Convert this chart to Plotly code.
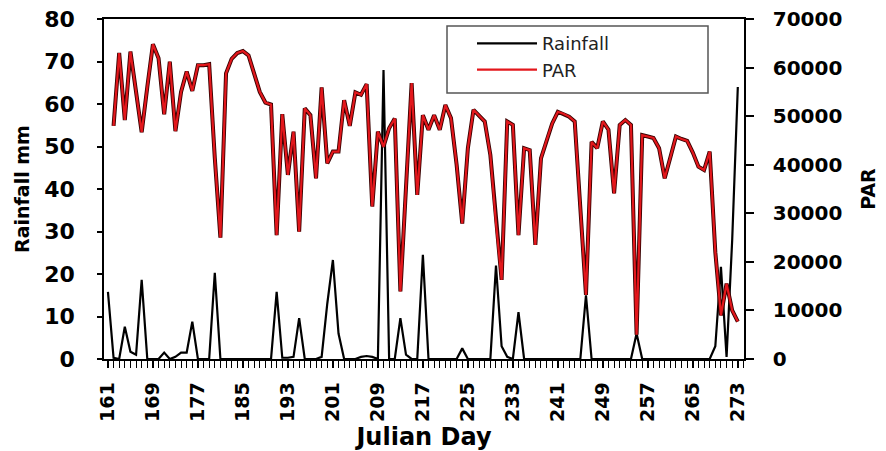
import plotly.graph_objects as go

# Julian days
days = [161, 162, 163, 164, 165, 166, 167, 168, 169, 170,
        171, 172, 173, 174, 175, 176, 177, 178, 179, 180,
        181, 182, 183, 184, 185, 186, 187, 188, 189, 190,
        191, 192, 193, 194, 195, 196, 197, 198, 199, 200,
        201, 202, 203, 204, 205, 206, 207, 208, 209, 210,
        211, 212, 213, 214, 215, 216, 217, 218, 219, 220,
        221, 222, 223, 224, 225, 226, 227, 228, 229, 230,
        231, 232, 233, 234, 235, 236, 237, 238, 239, 240,
        241, 242, 243, 244, 245, 246, 247, 248, 249, 250,
        251, 252, 253, 254, 255, 256, 257, 258, 259, 260,
        261, 262, 263, 264, 265, 266, 267, 268, 269, 270,
        271, 272, 273]

# Rainfall (mm), days 161-273
rainfall = [15.8, 0.3, 0, 7.6, 1.7, 1.0, 18.6, 0, 0, 0,
            1.5, 0, 0.5, 1.5, 1.5, 8.8, 0, 0, 0, 20.3,
            0, 0, 0, 0, 0, 0, 0, 0, 0, 0,
            15.8, 0.3, 0.3, 0.5, 9.6, 0, 0, 0, 0.5, 13,
            23.3, 6, 0, 0, 0, 0.5, 0.7, 0.5, 0, 68,
            0, 0, 9.6, 1, 0, 0, 24.5, 0, 0, 0,
            0, 0, 0, 2.5, 0, 0, 0, 0, 0, 22,
            3, 0.5, 0, 11, 0, 0, 0, 0, 0, 0,
            0, 0, 0, 0, 0, 15, 0, 0, 0, 0,
            0, 0, 0, 0, 6, 0, 0, 0, 0, 0,
            0, 0, 0, 0, 0, 0, 0, 0, 3, 21.7,
            0.5, 28, 64]

# PAR, days 162-273
par_days = days[1:]
par = [48000, 63000, 49200, 63300, 55000, 46700, 56000, 64800, 61900,
       50400, 61200, 46900, 55000, 59200, 55200, 60500, 60500, 60700, 41400,
       25000, 58800, 61800, 63000, 63400, 62500, 58500, 55000, 52800, 52400,
       25500, 50400, 37900, 46800, 26200, 51600, 50200, 37200, 55900, 40300,
       42700, 42700, 53300, 48000, 54900, 54400, 56600, 31400, 46800, 43700,
       47500, 49500, 13900, 35000, 56800, 33800, 50200, 47200, 50200, 47200,
       52300, 49600, 40000, 27900, 43400, 51300, 50000, 48900, 42000, 28000,
       16300, 48900, 48200, 25500, 43400, 43000, 23500, 41300, 45000, 48500,
       50900, 50500, 49900, 48900, 31000, 13200, 44700, 43400, 48900, 47200,
       34100, 48200, 49200, 48200, 5000, 46100, 45800, 45500, 43400, 37200,
       41500, 45800, 45300, 44900, 42500, 39600, 38900, 42700, 22000, 9000,
       15500, 10000, 7700]

x_ticks = [161, 169, 177, 185, 193, 201, 209, 217, 225, 233, 241, 249, 257, 265, 273]

FONT = "DejaVu Sans"

fig = go.Figure()
fig.add_trace(go.Scatter(x=days, y=rainfall, mode="lines", name="Rainfall",
                         line=dict(color="black", width=2.2), yaxis="y"))
fig.add_trace(go.Scatter(x=par_days, y=par, mode="lines", showlegend=False,
                         hoverinfo="skip",
                         line=dict(color="#3a0000", width=4), yaxis="y2"))
fig.add_trace(go.Scatter(x=par_days, y=par, mode="lines", name="PAR",
                         line=dict(color="#e3171c", width=2.2), yaxis="y2"))

fig.update_layout(
    width=886, height=451,
    margin=dict(l=104, r=142, t=19, b=92, pad=0),
    paper_bgcolor="white", plot_bgcolor="white",
    font=dict(family=FONT, color="black"),
    showlegend=True,
    legend=dict(x=0.575, y=0.982, xanchor="left", yanchor="top",
                bgcolor="rgba(0,0,0,0)", borderwidth=0,
                font=dict(family=FONT, size=18, color="#222"),
                itemwidth=60, tracegroupgap=0),
    xaxis=dict(range=[160.3, 274.1], tickmode="array", tickvals=x_ticks,
               ticktext=[str(v) for v in x_ticks],
               ticks="outside", ticklen=7, tickwidth=1.5, tickcolor="black",
               showline=True, linecolor="black", linewidth=1.5, mirror=True,
               showgrid=False, zeroline=False, tickangle=-90,
               ticklabelstandoff=7,
               tickfont=dict(family=FONT, size=19, weight="bold"),
               minor=dict(dtick=1, tick0=161, ticks="outside", ticklen=7,
                          tickwidth=1, tickcolor="black", showgrid=False),
               title=dict(text="Julian Day", standoff=12,
                          font=dict(family=FONT, size=24, weight="bold")),
               automargin=False),
    yaxis=dict(range=[0, 80], dtick=10, tick0=0, ticks="outside", ticklen=5,
               tickwidth=1.5, tickcolor="black", showline=True,
               linecolor="black", linewidth=1.5, showgrid=False,
               zeroline=False, ticklabelstandoff=18,
               tickfont=dict(family=FONT, size=22, weight="bold"),
               title=dict(text="Rainfall mm", standoff=10,
                          font=dict(family=FONT, size=19, weight="bold")),
               automargin=False),
    yaxis2=dict(range=[0, 70000], dtick=10000, tick0=0, overlaying="y",
                side="right", ticks="outside", ticklen=8, tickwidth=1.5,
                tickcolor="black", showline=True, linecolor="black",
                linewidth=1.5, showgrid=False, zeroline=False,
                tickformat="d", ticklabelstandoff=15,
                tickfont=dict(family=FONT, size=20, weight="bold"),
                title=dict(text="PAR", standoff=20,
                           font=dict(family=FONT, size=19, weight="bold")),
                automargin=False),
    yaxis3=dict(range=[0, 70000], dtick=10000, tick0=0, overlaying="y",
                side="right", ticks="inside", ticklen=8, tickwidth=1.5,
                tickcolor="black", showticklabels=False, showline=False,
                showgrid=False, zeroline=False, automargin=False),
    shapes=[dict(type="rect", xref="paper", yref="paper",
                 x0=(447 - 104) / 640, x1=(708 - 104) / 640,
                 y0=(359 - 93) / 340, y1=(359 - 26) / 340,
                 line=dict(color="#555", width=1.5), fillcolor="rgba(0,0,0,0)")],
)

fig.write_html("out.html")
